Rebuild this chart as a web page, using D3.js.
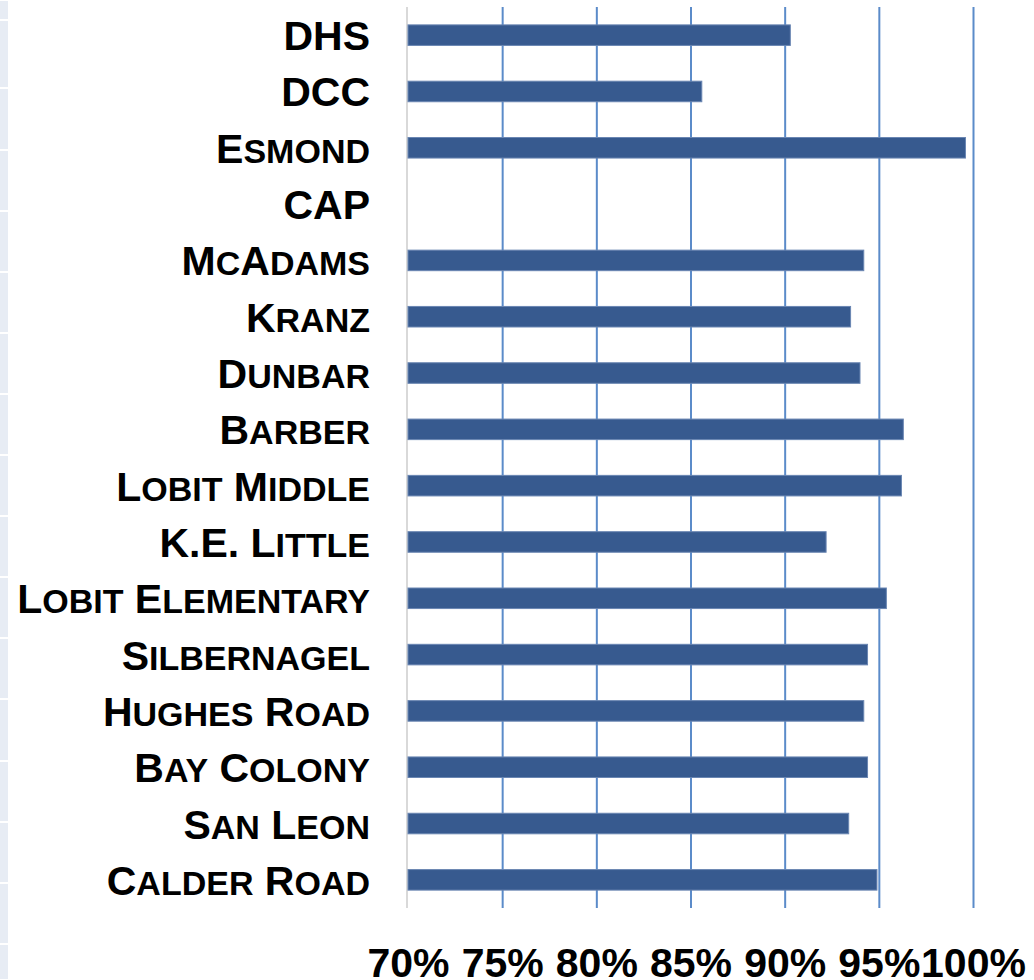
<!DOCTYPE html>
<html>
<head>
<meta charset="utf-8">
<script src="https://cdn.jsdelivr.net/npm/d3@7"></script>
<style>
  html, body { margin: 0; padding: 0; background: #ffffff; }
  svg { display: block; }
</style>
</head>
<body>
<svg id="chart" width="1034" height="980"></svg>
<script>
// ---- data ----
const categories = ["DHS", "DCC", "Esmond", "CAP", "McAdams", "Kranz", "Dunbar", "Barber",
  "Lobit Middle", "K.E. Little", "Lobit Elementary", "Silbernagel", "Hughes Road",
  "Bay Colony", "San Leon", "Calder Road"];
const values = [0.903, 0.856, 0.996, null, 0.942, 0.935, 0.940, 0.963,
  0.962, 0.922, 0.954, 0.944, 0.942, 0.944, 0.934, 0.949];
const tickValues = [0.70, 0.75, 0.80, 0.85, 0.90, 0.95, 1.00];
const stripBreaks = [0, 20, 88, 150, 211, 272, 333, 394, 455, 516, 577, 638, 699, 761, 822, 883, 944, 980];

(function () {
const svg = d3.select("#chart");
const plotLeft = 408, plotRight = 973, plotTop = 7, plotBottom = 908;

const x = d3.scaleLinear().domain([0.7, 1.0]).range([plotLeft, plotRight]);
const y = d3.scaleBand().domain(categories).range([plotTop, plotBottom]).paddingInner(0.635).paddingOuter(0.3175);

// left decorative strip
const cells = d3.pairs(stripBreaks);
svg.append("g").selectAll("rect").data(cells).join("rect")
  .attr("x", 0).attr("width", 8)
  .attr("y", d => d[0] + 1).attr("height", d => Math.max(0, d[1] - d[0] - 2))
  .attr("fill", "#e7ecf4");

// gridlines
const grid = svg.append("g").attr("transform", `translate(0,${plotBottom})`)
  .call(d3.axisBottom(x).tickValues(tickValues.slice(1)).tickSize(-(plotBottom - plotTop)).tickFormat(""));
grid.select(".domain").remove();
grid.selectAll(".tick line").attr("stroke", "#5b8bc9").attr("stroke-width", 2);

// category axis line
svg.append("line")
  .attr("x1", x(0.7) - 1).attr("x2", x(0.7) - 1)
  .attr("y1", plotTop).attr("y2", plotBottom)
  .attr("stroke", "#d9d9d9").attr("stroke-width", 2);

// bars
svg.append("g").selectAll("rect").data(categories.map((c, i) => ({c, v: values[i]})).filter(d => d.v != null))
  .join("rect")
  .attr("x", x(0.7))
  .attr("y", d => y(d.c))
  .attr("width", d => x(d.v) - x(0.7))
  .attr("height", y.bandwidth())
  .attr("fill", "#375a8f")
  .attr("stroke", "#6a86b2")
  .attr("stroke-width", 1);

// category labels in small caps
const FULL = 41, SMALL = 34;
const labels = svg.append("g")
  .attr("font-family", "'Liberation Sans', Arial, sans-serif")
  .attr("font-weight", "bold")
  .attr("fill", "#000");
categories.forEach(c => {
  const t = labels.append("text")
    .attr("x", 370)
    .attr("y", y(c) + y.bandwidth() / 2 + 15)
    .attr("text-anchor", "end");
  const runs = c.match(/[a-z]+|[^a-z]+/g);
  runs.forEach(r => {
    const isLower = /^[a-z]+$/.test(r);
    t.append("tspan")
      .attr("font-size", isLower ? SMALL : FULL)
      .text(r.toUpperCase());
  });
});

// value axis labels
const xAxis = svg.append("g").attr("transform", `translate(0,${plotBottom})`)
  .call(d3.axisBottom(x).tickValues(tickValues).tickSize(0).tickFormat(d3.format(".0%")));
xAxis.select(".domain").remove();
xAxis.selectAll("text")
  .attr("y", 69).attr("dy", 0)
  .attr("font-family", "'Liberation Sans', Arial, sans-serif")
  .attr("font-weight", "bold")
  .attr("font-size", FULL)
  .attr("fill", "#000");
})();
</script>
</body>
</html>
